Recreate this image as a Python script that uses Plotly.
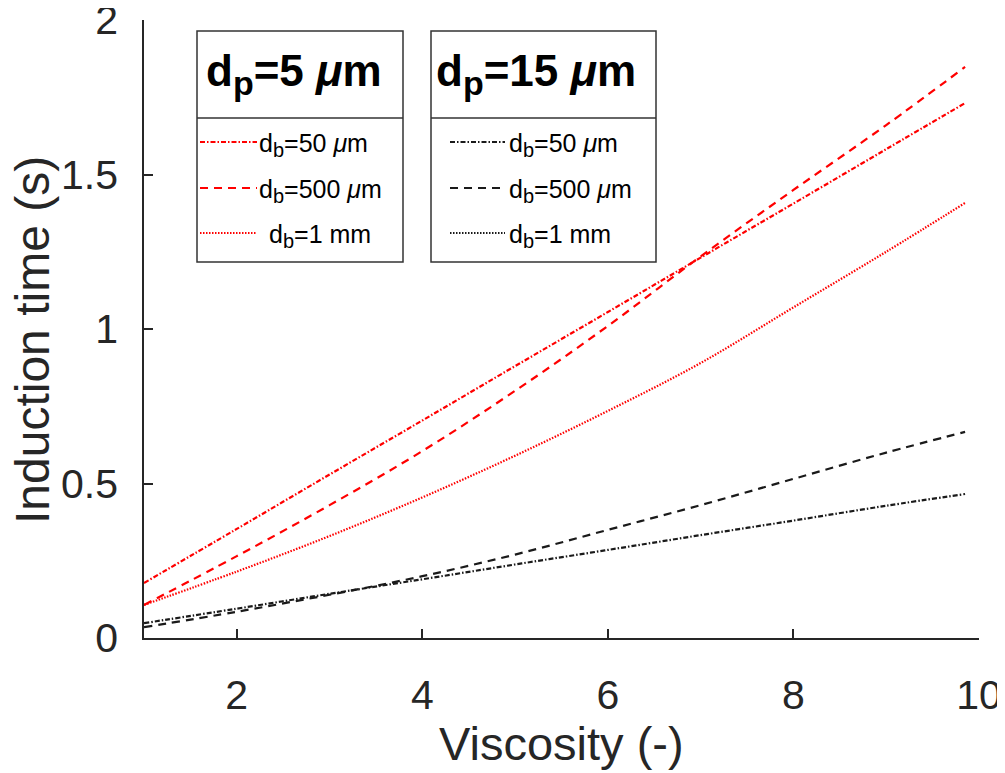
import plotly.graph_objects as go

# ---------------- data ----------------
viscosity = [1, 2, 3, 4, 5, 6, 7, 8, 9, 9.85]

# d_p = 5 um (red)
t5_db50 = [0.178, 0.353, 0.529, 0.704, 0.880, 1.055, 1.231, 1.406, 1.582, 1.731]
t5_db500 = [0.107, 0.265, 0.430, 0.605, 0.800, 1.010, 1.235, 1.450, 1.660, 1.848]
t5_db1mm = [0.107, 0.215, 0.330, 0.455, 0.590, 0.735, 0.890, 1.070, 1.250, 1.408]

# d_p = 15 um (black)
t15_db50 = [0.048, 0.095, 0.143, 0.190, 0.238, 0.285, 0.333, 0.380, 0.428, 0.466]
t15_db500 = [0.035, 0.085, 0.140, 0.200, 0.270, 0.350, 0.430, 0.515, 0.600, 0.667]

x_ticks = [2, 4, 6, 8, 10]
y_ticks = [0, 0.5, 1, 1.5, 2]
y_tick_labels = ["0", "0.5", "1", "1.5", "2"]

SUBP = "<sub><span style='font-size:34px'>p</span></sub>"
SUBB = "<sub><span style='font-size:20px'>b</span></sub>"
legend1_title = "d" + SUBP + "=5 <i>μ</i>m"
legend2_title = "d" + SUBP + "=15 <i>μ</i>m"
entry_labels = ["d" + SUBB + "=50 <i>μ</i>m", "d" + SUBB + "=500 <i>μ</i>m", "d" + SUBB + "=1 mm"]

# ---------------- styles ----------------
RED = "#ff0000"
BLACK = "#1a1a1a"
DASHDOT = "5px,2px,1.5px,2px"
DASH = "8px,6px"
DOT = "1.5px,1.5px"
FONT = "Liberation Sans, Arial, Helvetica, sans-serif"
AX = "#262626"

fig = go.Figure()

series = [
    (t5_db50, RED, DASHDOT),
    (t5_db500, RED, DASH),
    (t5_db1mm, RED, DOT),
    (t15_db50, BLACK, DASHDOT),
    (t15_db500, BLACK, DASH),
]
for ys, col, dash in series:
    fig.add_trace(go.Scatter(x=viscosity, y=ys, mode="lines",
                             line=dict(color=col, width=2.2, dash=dash, shape="spline"),
                             showlegend=False, hoverinfo="skip"))

OFF = 8  # page body margin
W, H = 1005 - OFF, 773 - OFF
L, T = 144 - OFF, 20 - OFF
R = W - (979 - OFF)
B = H - (638 - OFF)
PW, PH = W - L - R, H - T - B


def fx(xp):
    return (xp - OFF - L) / PW


def fy(yp):
    return (H - B - (yp - OFF)) / PH


shapes = []
annotations = []


def add_legend(x0, x1, title, color, text_x, line_x0, line_x1, dashes, text_xs):
    shapes.append(dict(type="rect", xref="paper", yref="paper",
                       x0=fx(x0), x1=fx(x1), y0=fy(262), y1=fy(31),
                       line=dict(color="#333333", width=1.5), fillcolor="white", layer="above"))
    shapes.append(dict(type="line", xref="paper", yref="paper",
                       x0=fx(x0), x1=fx(x1), y0=fy(118), y1=fy(118),
                       line=dict(color="#333333", width=1.5), layer="above"))
    annotations.append(dict(xref="paper", yref="paper", x=fx(text_x), y=fy(74),
                            xanchor="left", yanchor="middle", showarrow=False,
                            text="<b>" + title + "</b>",
                            font=dict(family=FONT, size=44, color="black")))
    ys_entries = [142, 188, 233]
    for i, (ye, dsh, tx) in enumerate(zip(ys_entries, dashes, text_xs)):
        shapes.append(dict(type="line", xref="paper", yref="paper",
                           x0=fx(line_x0), x1=fx(line_x1), y0=fy(ye), y1=fy(ye),
                           line=dict(color=color, width=2, dash=dsh), layer="above"))
        annotations.append(dict(xref="paper", yref="paper", x=fx(tx), y=fy(ye + 3),
                                xanchor="left", yanchor="middle", showarrow=False,
                                text=entry_labels[i],
                                font=dict(family=FONT, size=25, color="black")))


add_legend(197, 403, legend1_title, RED, 204, 200, 257, [DASHDOT, DASH, DOT], [257, 257, 267])
add_legend(431, 656, legend2_title, BLACK, 434, 450, 505, [DASHDOT, DASH, DOT], [507, 507, 507])

# axis titles
annotations.append(dict(xref="paper", yref="paper", x=fx(561), y=fy(743),
                        xanchor="center", yanchor="middle", showarrow=False,
                        text="Viscosity (-)", font=dict(family=FONT, size=47, color=AX)))
annotations.append(dict(xref="paper", yref="paper", x=fx(32), y=fy(340),
                        xanchor="center", yanchor="middle", showarrow=False, textangle=-90,
                        text="Induction time (s)", font=dict(family=FONT, size=48, color=AX)))

fig.update_layout(
    width=W, height=H,
    margin=dict(l=L, r=R, t=T, b=B, autoexpand=False),
    paper_bgcolor="white", plot_bgcolor="white",
    shapes=shapes, annotations=annotations,
    font=dict(family=FONT, color=AX),
)
fig.update_xaxes(range=[1, 10], tickvals=x_ticks, ticks="inside", ticklen=9, tickwidth=1.5,
                 tickcolor=AX, showline=True, linecolor=AX, linewidth=1.5, automargin=False,
                 showgrid=False, zeroline=False, tickfont=dict(family=FONT, size=41, color=AX),
                 ticklabelstandoff=20, ticklabeloverflow="allow")
fig.update_yaxes(range=[0, 2], tickvals=y_ticks, ticktext=y_tick_labels, ticks="inside", ticklen=9,
                 tickwidth=1.5, tickcolor=AX, showline=True, linecolor=AX, linewidth=1.5,
                 automargin=False, showgrid=False, zeroline=False,
                 tickfont=dict(family=FONT, size=41, color=AX), ticklabelstandoff=16,
                 ticklabeloverflow="allow")

fig.write_html("out.html")
